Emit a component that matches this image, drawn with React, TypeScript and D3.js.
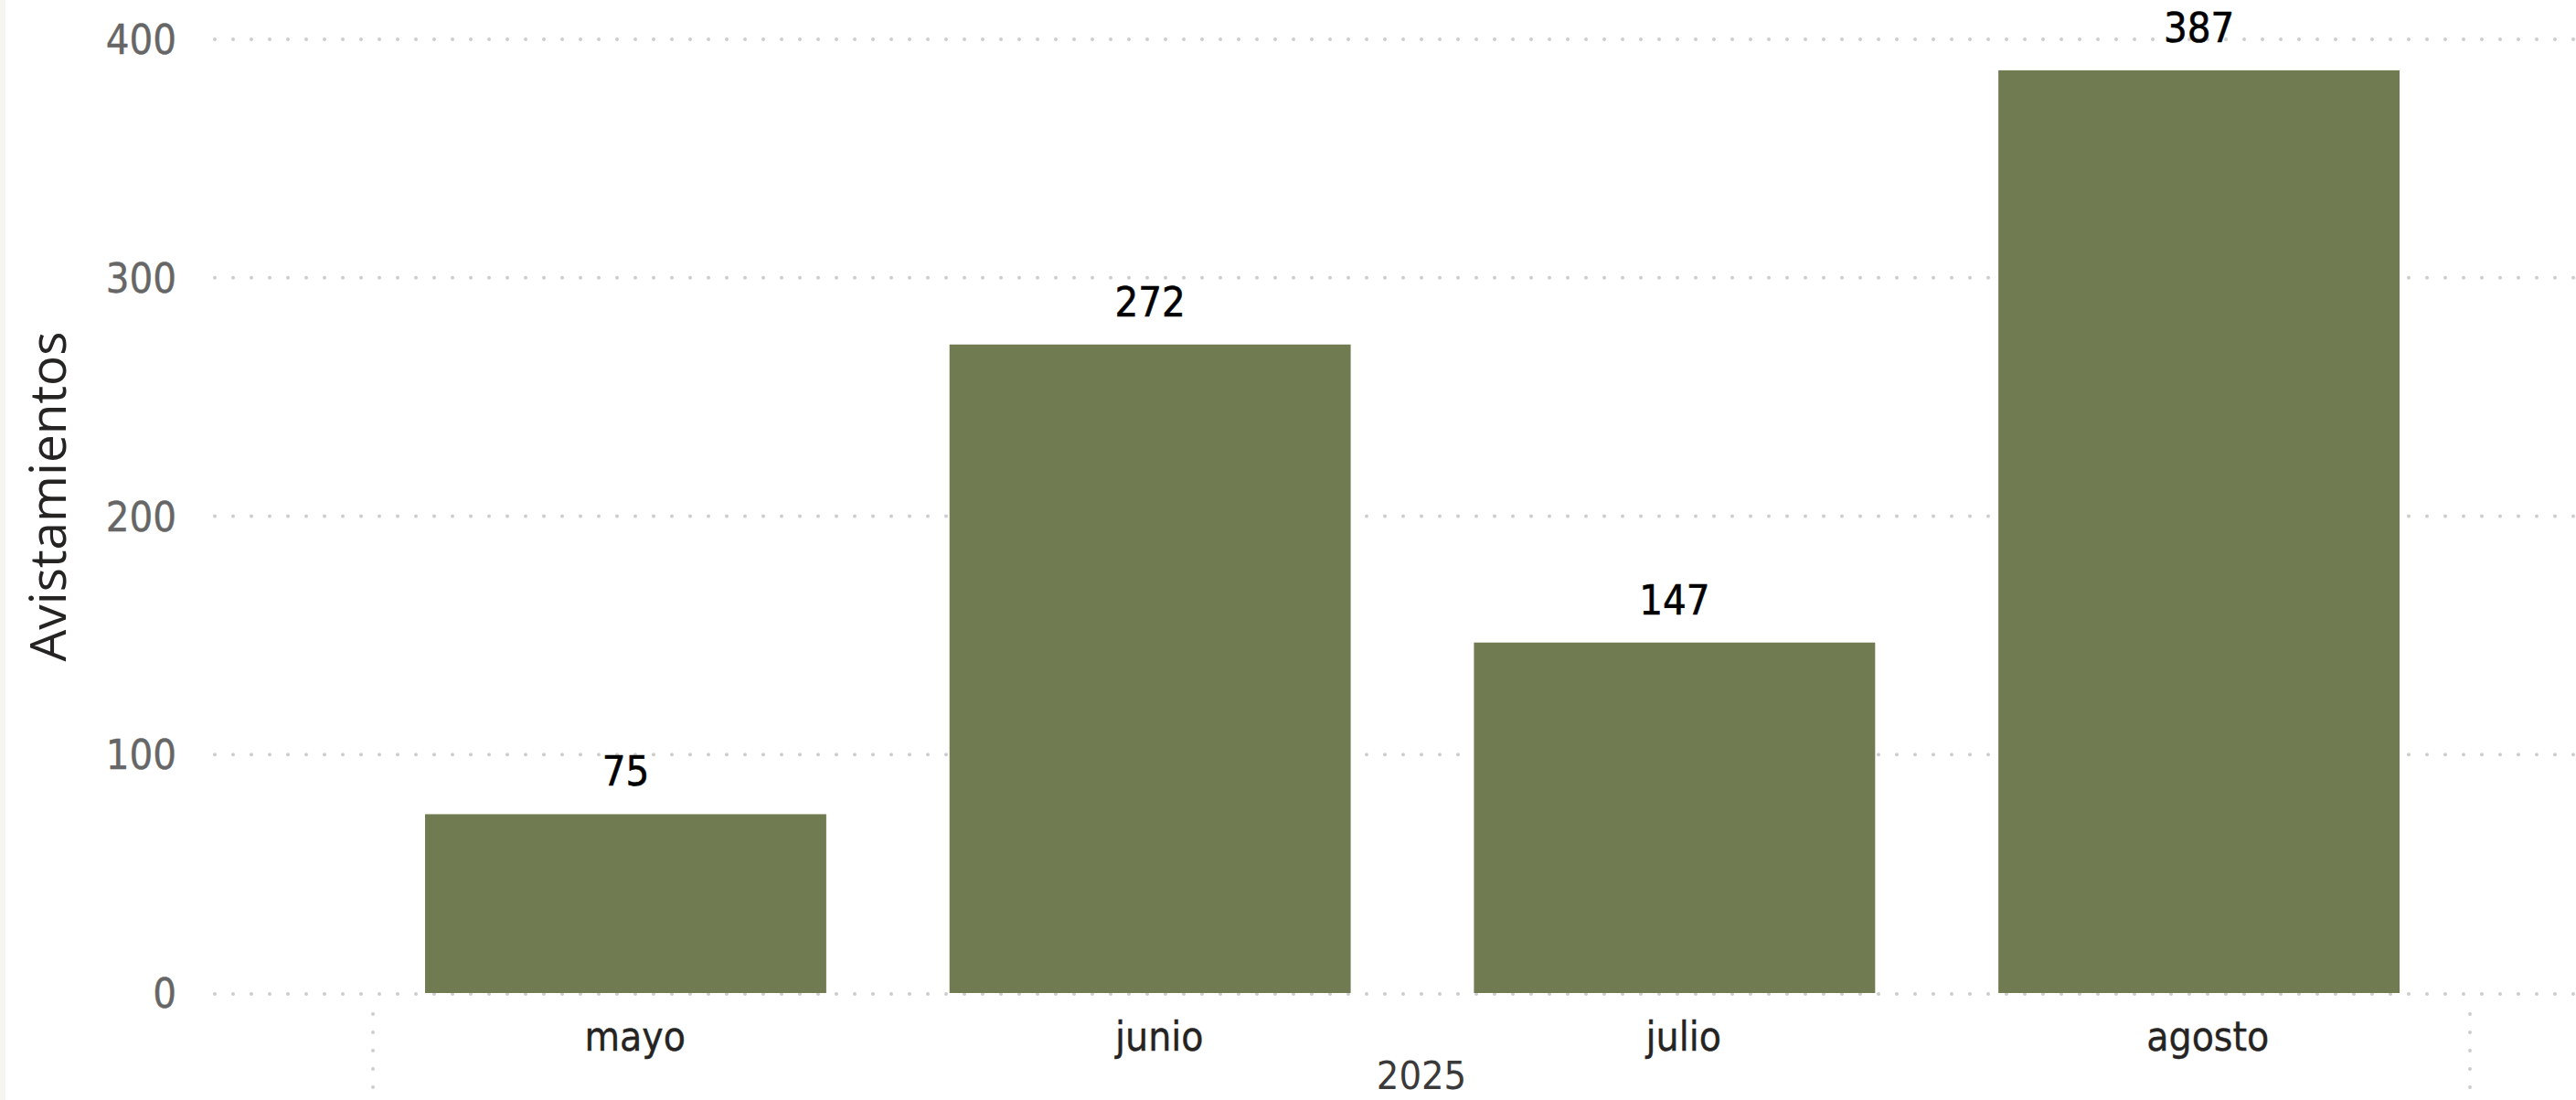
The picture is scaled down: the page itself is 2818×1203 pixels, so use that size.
import React from "react";
import * as d3 from "d3";

const months: string[] = ["mayo", "junio", "julio", "agosto"];
const sightings: number[] = [75, 272, 147, 387];
const yTicks: number[] = [0, 100, 200, 300, 400];
const yearLabel = "2025";
const yTitle = "Avistamientos";

const W = 2818;
const H = 1203;
const NUM_FONT = "'Liberation Sans Narrow', 'DejaVu Sans Condensed', Roboto, sans-serif";

export default function App() {
  const y = d3.scaleLinear().domain([0, 400]).range([1086, 43]);
  // category slots (labels, dividers)
  const slot = d3.scaleBand<string>().domain(months).range([408, 2702]).padding(0);
  // bars (placed slightly left of slot centres, as in the reference)
  const bx = d3.scaleBand<string>().domain(months).range([465, 2625]).paddingInner(0.235).paddingOuter(0);

  const gridX0 = 235;
  const dividerXs = [slot.range()[0], slot.range()[1]];

  return (
    <svg
      width={W}
      height={H}
      style={{ position: "absolute", left: 0, top: 0, background: "#ffffff" }}
    >
      <rect x={0} y={0} width={6} height={H} fill="#f6f5f0" />

      {/* gridlines */}
      {yTicks.map((t) => (
        <line
          key={"g" + t}
          x1={gridX0}
          x2={W}
          y1={y(t) + (t === 0 ? 1 : 0)}
          y2={y(t) + (t === 0 ? 1 : 0)}
          stroke="#cdcdcd"
          strokeWidth={4}
          strokeLinecap="round"
          strokeDasharray="0 20"
        />
      ))}

      {/* bars */}
      {months.map((m, i) => (
        <rect
          key={m}
          x={bx(m)}
          y={y(sightings[i])}
          width={bx.bandwidth()}
          height={y(0) - y(sightings[i])}
          fill="#717b52"
        />
      ))}

      {/* value labels */}
      {months.map((m, i) => (
        <text
          key={"v" + m}
          x={(bx(m) as number) + bx.bandwidth() / 2}
          y={y(sightings[i]) - 31}
          textAnchor="middle"
          fontFamily={NUM_FONT}
          fontSize={45}
          fill="#000000"
          stroke="#000000"
          strokeWidth={0.6}
        >
          {sightings[i]}
        </text>
      ))}

      {/* y tick labels */}
      {yTicks.map((t) => (
        <text
          key={"t" + t}
          x={193}
          y={y(t)}
          dy="0.36em"
          textAnchor="end"
          fontFamily={NUM_FONT}
          fontSize={45}
          fill="#666666"
          stroke="#666666"
          strokeWidth={0.4}
        >
          {t}
        </text>
      ))}

      {/* y title */}
      <text
        transform={`translate(72, 543) rotate(-90)`}
        textAnchor="middle"
        fontFamily="'Open Sans', sans-serif"
        fontWeight={400}
        fontSize={55}
        fill="#252423"
      >
        {yTitle}
      </text>

      {/* category labels */}
      {months.map((m) => (
        <text
          key={"c" + m}
          x={(slot(m) as number) + slot.bandwidth() / 2}
          y={1149}
          textAnchor="middle"
          fontFamily={NUM_FONT}
          fontSize={44}
          fill="#252423"
          stroke="#252423"
          strokeWidth={0.4}
        >
          {m}
        </text>
      ))}

      {/* vertical dividers */}
      {dividerXs.map((x, i) => (
        <line
          key={"d" + i}
          x1={x}
          x2={x}
          y1={1109}
          y2={H + 10}
          stroke="#cdcdcd"
          strokeWidth={4}
          strokeLinecap="round"
          strokeDasharray="0 20"
        />
      ))}

      {/* year label */}
      <text
        x={(dividerXs[0] + dividerXs[1]) / 2}
        y={1191}
        textAnchor="middle"
        fontFamily={NUM_FONT}
        fontSize={43}
        fill="#3a3a3a"
      >
        {yearLabel}
      </text>
    </svg>
  );
}
